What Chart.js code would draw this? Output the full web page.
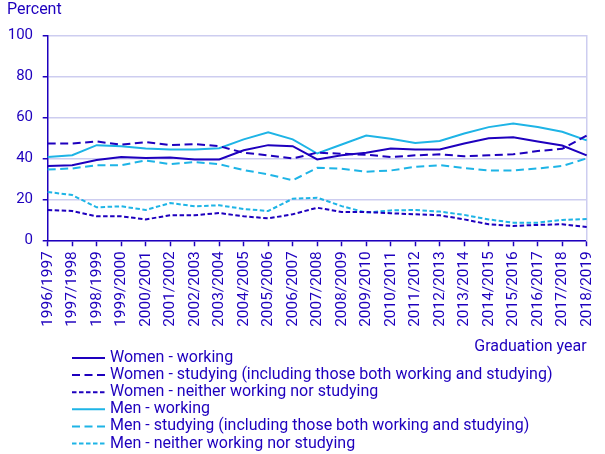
<!DOCTYPE html>
<html>
<head>
<meta charset="utf-8">
<script src="https://cdn.jsdelivr.net/npm/chart.js@4"></script>
<style>
  html, body { margin: 0; padding: 0; background: #fff; }
  #wrap { width: 605px; height: 454px; }
</style>
</head>
<body>
<div id="wrap"><canvas id="chart1"></canvas></div>
<script>
// data
var years = ['1996/1997', '1997/1998', '1998/1999', '1999/2000', '2000/2001', '2001/2002',
  '2002/2003', '2003/2004', '2004/2005', '2005/2006', '2006/2007', '2007/2008', '2008/2009',
  '2009/2010', '2010/2011', '2011/2012', '2012/2013', '2013/2014', '2014/2015', '2015/2016',
  '2016/2017', '2017/2018', '2018/2019'];

var womenWorking = [36.3, 36.7, 39.2, 40.7, 40.2, 40.5, 39.5, 39.5, 44.0, 46.5, 46.0, 39.5,
  41.5, 42.8, 44.9, 44.4, 44.4, 47.3, 49.9, 50.4, 48.3, 46.3, 41.5];
var womenStudying = [47.3, 47.3, 48.3, 46.7, 48.0, 46.5, 47.0, 46.0, 42.8, 41.5, 40.0, 42.8,
  42.3, 41.8, 40.7, 41.5, 42.0, 41.1, 41.5, 42.0, 43.6, 44.7, 51.2];
var womenNeither = [14.8, 14.3, 11.7, 11.7, 10.2, 12.2, 12.2, 13.3, 11.7, 10.7, 12.7, 15.9,
  13.8, 13.8, 13.2, 12.7, 12.2, 10.2, 7.8, 7.0, 7.5, 7.8, 6.5];
var menWorking = [40.7, 41.6, 46.5, 46.0, 44.9, 44.4, 44.4, 45.0, 49.3, 52.8, 49.3, 42.4,
  46.8, 51.2, 49.6, 47.6, 48.5, 52.2, 55.3, 57.1, 55.4, 53.0, 48.8];
var menStudying = [34.6, 35.1, 36.7, 36.7, 39.0, 37.2, 38.2, 37.2, 34.3, 32.2, 29.3, 35.4,
  35.0, 33.5, 34.1, 35.9, 36.7, 35.3, 34.1, 34.1, 35.1, 36.3, 40.0];
var menNeither = [23.6, 22.1, 16.1, 16.6, 14.8, 18.2, 16.6, 17.1, 15.3, 14.3, 20.3, 20.8,
  16.7, 13.5, 14.6, 14.8, 14.0, 12.4, 10.2, 8.6, 8.6, 9.9, 10.4];

var dark = '#1e00be';
var light = '#1eb4e6';
var textColor = '#1e00be';
var longDash = [8, 4.5];
var shortDash = [4.5, 2.5];

function series(label, data, color, dash) {
  return {
    label: label,
    data: data,
    borderColor: color,
    backgroundColor: color,
    borderWidth: 2,
    borderDash: dash,
    pointRadius: 0,
    tension: 0,
    fill: false
  };
}

// legend stacked one item per row under the chart
var stackedLegend = {
  id: 'stackedLegend',
  afterDraw: function (chart) {
    var c = chart.ctx;
    c.save();
    c.font = '16px Roboto';
    c.textBaseline = 'middle';
    chart.data.datasets.forEach(function (ds, i) {
      var y = 358 + i * 17.1;
      c.beginPath();
      c.strokeStyle = ds.borderColor;
      c.lineWidth = 2;
      c.setLineDash(ds.borderDash || []);
      c.moveTo(72, y);
      c.lineTo(105, y);
      c.stroke();
      c.setLineDash([]);
      c.fillStyle = textColor;
      c.fillText(ds.label, 110, y);
    });
    c.restore();
  }
};

var ctx1 = document.getElementById('chart1').getContext('2d');
var chart1 = new Chart(ctx1, {
  type: 'line',
  data: {
    labels: years,
    datasets: [
      series('Women - working', womenWorking, dark, []),
      series('Women - studying (including those both working and studying)', womenStudying, dark, longDash),
      series('Women - neither working nor studying', womenNeither, dark, shortDash),
      series('Men - working', menWorking, light, []),
      series('Men - studying (including those both working and studying)', menStudying, light, longDash),
      series('Men - neither working nor studying', menNeither, light, shortDash)
    ]
  },
  options: {
    responsive: true,
    maintainAspectRatio: false,
    animation: false,
    layout: {
      padding: { left: 7, right: 0, top: 0, bottom: 97 }
    },
    plugins: {
      legend: { display: false },
      tooltip: { enabled: false },
      title: {
        display: true,
        text: 'Percent',
        align: 'start',
        color: textColor,
        font: { family: 'Roboto', size: 16, weight: 'normal' },
        padding: { top: 0.5, bottom: 16 }
      }
    },
    scales: {
      x: {
        offset: false,
        border: { color: dark, width: 1.5 },
        grid: {
          drawOnChartArea: false,
          drawTicks: true,
          tickLength: 6,
          tickColor: dark,
          tickWidth: 1.5
        },
        ticks: {
          color: textColor,
          autoSkip: false,
          maxRotation: 90,
          minRotation: 90,
          padding: 5,
          font: { family: 'Roboto', size: 15.4 }
        },
        title: {
          display: true,
          text: 'Graduation year',
          align: 'end',
          color: textColor,
          font: { family: 'Roboto', size: 16 },
          padding: { top: 6, bottom: 0 }
        },
        afterFit: function (scale) { scale.paddingRight = 18.3; }
      },
      y: {
        min: 0,
        max: 100,
        border: { color: dark, width: 1.5 },
        grid: {
          color: function (ctx) {
            return ctx.tick && ctx.tick.value % 20 === 0 ? '#cdcdf0' : '#ebebeb';
          },
          lineWidth: 1.5,
          tickLength: 5,
          tickColor: function (ctx) {
            return ctx.tick && ctx.tick.value % 20 === 0 ? dark : 'rgba(0,0,0,0)';
          }
        },
        ticks: {
          stepSize: 10,
          color: textColor,
          padding: 9.7,
          font: { family: 'Roboto', size: 15 },
          callback: function (v) { return v % 20 === 0 ? v : ''; }
        },
        afterFit: function (scale) { scale.width = 40.7; }
      },
      yRight: {
        position: 'right',
        min: 0,
        max: 100,
        border: { color: '#cdcdf0', width: 1.5 },
        grid: { display: false, drawTicks: false },
        ticks: { display: false }
      }
    }
  },
  plugins: [stackedLegend]
});
</script>
</body>
</html>
